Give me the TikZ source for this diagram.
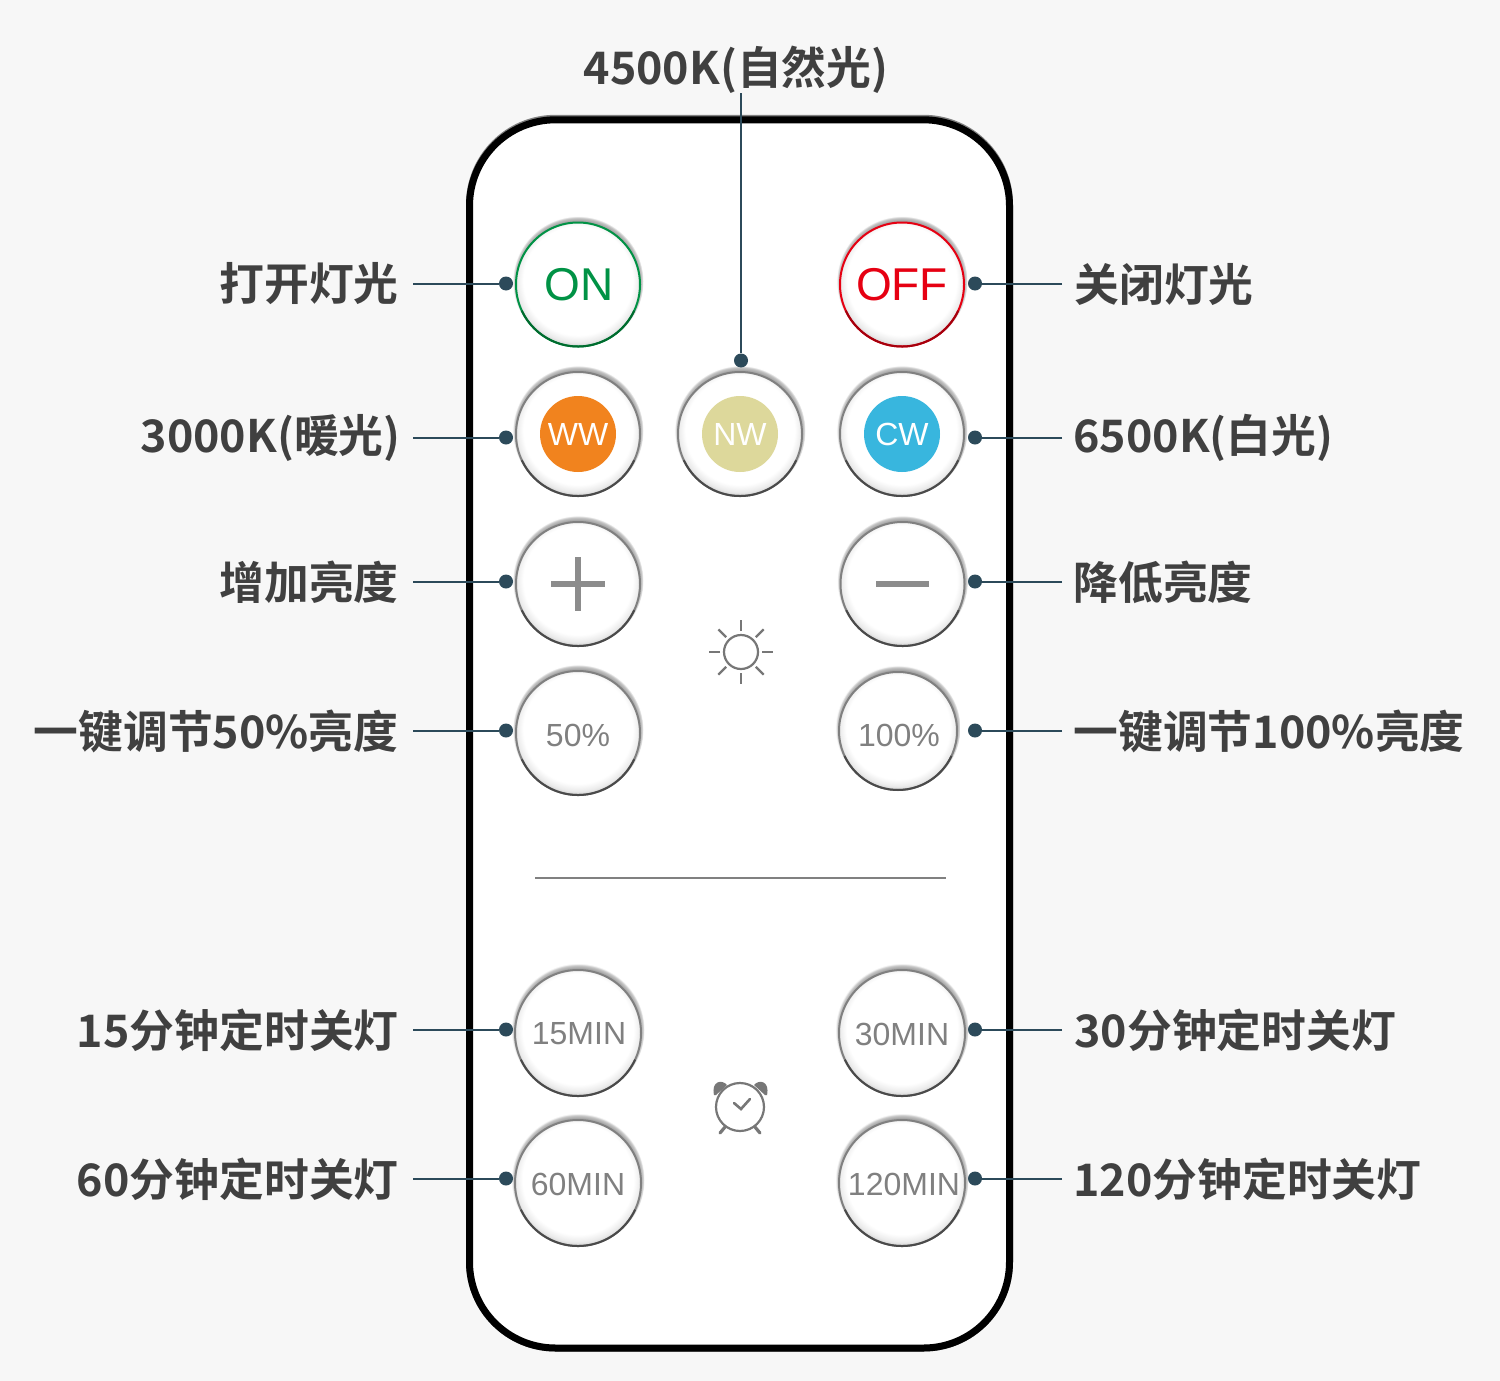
\documentclass[tikz,border=0pt]{standalone}
\usepackage{fontspec}
\setmainfont{Noto Sans CJK SC}[BoldFont={Noto Sans CJK SC Bold}]
\newfontfamily\arialf{Liberation Sans}
\usetikzlibrary{calc}
\definecolor{bgc}{HTML}{F7F7F7}
\definecolor{ink}{HTML}{404040}
\definecolor{wire}{HTML}{2C4A5A}
\definecolor{btngray}{HTML}{808080}
\definecolor{barc}{HTML}{8C8C8C}
\definecolor{btndark}{HTML}{4A4A4A}
\definecolor{ongreen}{HTML}{009245}
\definecolor{ongreend}{HTML}{006B2E}
\definecolor{offred}{HTML}{E60012}
\definecolor{offredd}{HTML}{A5000D}
\definecolor{icon}{HTML}{777777}
\pgfdeclareradialshading{halosh}{\pgfpoint{0bp}{0bp}}{rgb(0bp)=(.64,.64,.64);rgb(23.2bp)=(.64,.64,.64);rgb(24.3bp)=(.78,.78,.78);rgb(25bp)=(1,1,1);rgb(50bp)=(1,1,1)}
\pgfdeclareradialshading{insh}{\pgfpoint{0bp}{2.8bp}}{rgb(0bp)=(1,1,1);rgb(22bp)=(1,1,1);rgb(24.8bp)=(.92,.92,.92);rgb(27.8bp)=(.70,.70,.70);rgb(50bp)=(.70,.70,.70)}
\tikzset{
  btnface/.style={circle,inner sep=0pt,line width=1pt},
  btntext/.style={font=\arialf\fontsize{16}{18}\selectfont,text=btngray,inner sep=0pt},
  bigtext/.style={font=\arialf\fontsize{23}{26}\selectfont,inner sep=0pt},
  disc/.style={circle,inner sep=0pt,minimum size=38pt,text=white,font=\arialf\fontsize{16}{18}\selectfont},
  lab/.style={font=\bfseries\fontsize{22.4}{26}\selectfont,text=ink,inner sep=0pt},
  labl/.style={lab,anchor=east},
  labr/.style={lab,anchor=west},
  wireline/.style={draw=wire,line width=1pt},
  dotn/.style={circle,fill=wire,inner sep=0pt,minimum size=7pt},
  iconline/.style={draw=icon,line width=1.1pt},
}
% name, x, y, r, stroke, bottom stroke
\newcommand\rbtn[6]{%
  \shade[shading=halosh] (#2,#3-3) circle ({#4+3.5});
  \shade[shading=insh] (#2,#3) circle (#4);
  \node[btnface,draw=#5,minimum size=#4 pt] (#1) at (#2,#3) {};
  \draw[#6,line width=1pt] ($(#2,#3)+(25:#4)$) arc[start angle=25,end angle=155,radius=#4];
}
\begin{document}
\begin{tikzpicture}[x=0.5pt,y=-0.5pt]
\useasboundingbox (0,0) rectangle (1500,1381);
\fill[bgc] (0,0) rectangle (1500,1381);
% remote body
\draw[btngray,line width=3.5pt,rounded corners=43pt] (469.5,118.3) rectangle (1009.5,1348);
\draw[black,fill=white,line width=3.5pt,rounded corners=43pt] (469.5,119.8) rectangle (1009.5,1348);
\draw[btngray,line width=1pt] (535,877.5) -- (946,877.5);
% buttons
\rbtn{on}{578}{284.5}{62}{ongreen}{ongreend}
\rbtn{off}{902}{284.5}{62}{offred}{offredd}
\rbtn{ww}{578}{434}{62}{btngray}{btndark}
\rbtn{nw}{740}{434}{62}{btngray}{btndark}
\rbtn{cw}{902}{434}{62}{btngray}{btndark}
\rbtn{plus}{578}{584}{62}{btngray}{btndark}
\rbtn{minus}{902.5}{584}{62}{btngray}{btndark}
\rbtn{p50}{578}{733}{62}{btngray}{btndark}
\rbtn{p100}{898}{731}{59}{btngray}{btndark}
\rbtn{m15}{578}{1033}{63}{btngray}{btndark}
\rbtn{m30}{902}{1033}{63}{btngray}{btndark}
\rbtn{m60}{578}{1183}{63}{btngray}{btndark}
\rbtn{m120}{902}{1183}{63}{btngray}{btndark}
% button faces
\node[bigtext,text=ongreen] (ontx) at (579,285) {ON};
\node[bigtext,text=offred] (offtx) at (902,285) {OFF};
\node[disc,fill={rgb,255:red,241;green,131;blue,30}] (wwd) at (578,434) {WW};
\node[disc,fill={rgb,255:red,221;green,216;blue,155}] (nwd) at (740,434) {NW};
\node[disc,fill={rgb,255:red,56;green,182;blue,222}] (cwd) at (902,434) {CW};
\draw[barc,line width=2.8pt] (551,584) -- (605,584) (578,557) -- (578,611);
\draw[barc,line width=2.8pt] (876,584) -- (929,584);
\node[btntext] (t50) at (578,735) {50\%};
\node[btntext] (t100) at (899,735) {100\%};
\node[btntext] (t15) at (579,1034) {15MIN};
\node[btntext] (t30) at (902,1034) {30MIN};
\node[btntext] (t60) at (578,1184) {60MIN};
\node[btntext] (t120) at (904,1184) {120MIN};
% sun icon
\draw[iconline] (741,652) circle (17);
\foreach \a in {0,45,...,315}{\draw[iconline] ($(741,652)+(\a:21)$) -- ($(741,652)+(\a:32)$);}
% clock icon
\draw[iconline] (740,1107) circle (24);
\fill[icon] (727,1085) .. controls (722,1079) and (711,1081) .. (714,1095) -- (716,1095) -- cycle;
\fill[icon] (754,1085) .. controls (759,1079) and (770,1081) .. (767,1095) -- (765,1095) -- cycle;
\draw[icon,line width=1.6pt,line cap=round] (725,1127) -- (720,1133) (755,1127) -- (760,1133);
\draw[icon,line width=1.3pt,line cap=round] (734,1103) -- (741,1109) -- (750,1099);
% labels
\node[labl] (lon) at (399,284) {打开灯光};
\node[labl] (lww) at (401,438) {3000K(暖光)};
\node[labl] (lplus) at (399,582) {增加亮度};
\node[labl] (l50) at (399,731) {一键调节50\%亮度};
\node[labl] (l15) at (399,1030) {15分钟定时关灯};
\node[labl] (l60) at (399,1179.5) {60分钟定时关灯};
\node[labr] (roff) at (1074,284) {关闭灯光};
\node[labr] (rcw) at (1073,438) {6500K(白光)};
\node[labr] (rminus) at (1073,582) {降低亮度};
\node[labr] (r100) at (1073,731) {一键调节100\%亮度};
\node[labr] (r30) at (1074,1030) {30分钟定时关灯};
\node[labr] (r120) at (1073,1179.5) {120分钟定时关灯};
\node[lab] (tnw) at (736,70) {4500K(自然光)};
% connectors
\foreach \n/\y in {a/283.5,b/437.5,c/581.5,d/730.5,e/1029.5,f/1178.5}{
  \coordinate (L\n) at (413,\y);
  \coordinate (R\n) at (1062,\y);
  \node[dotn] (DL\n) at (506,\y) {};
  \node[dotn] (DR\n) at (975,\y) {};
  \draw[wireline] (L\n) -- (DL\n);
  \draw[wireline] (R\n) -- (DR\n);
}
\coordinate (Ttop) at (741,93);
\node[dotn] (Dtop) at (741,360.5) {};
\draw[wireline] (Ttop) -- (Dtop);
\end{tikzpicture}
\end{document}
